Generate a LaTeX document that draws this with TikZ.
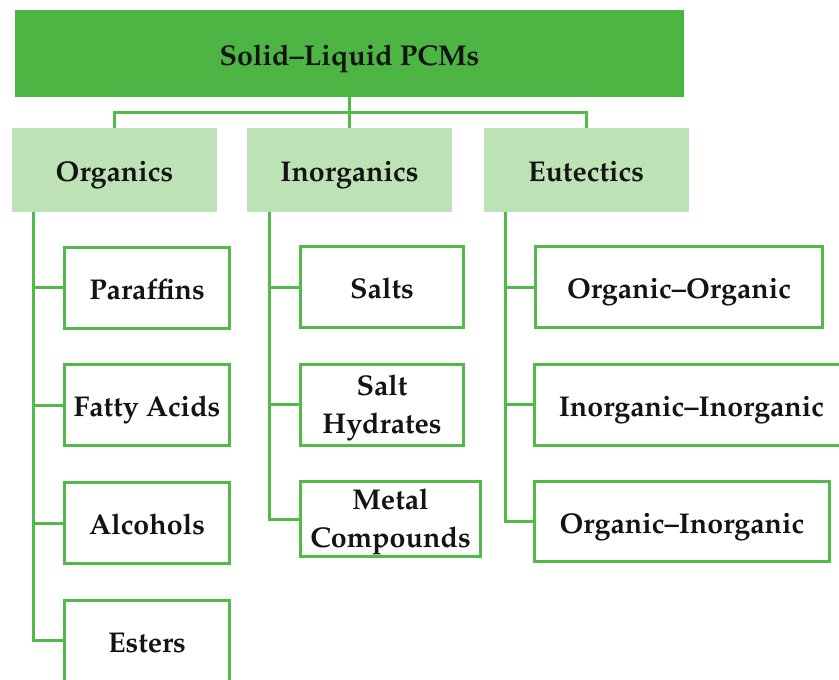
\documentclass[tikz,border=0pt]{standalone}
\usepackage[T1]{fontenc}
\usepackage{mathpazo}
\usepackage{tikz}
\usetikzlibrary{positioning}

\definecolor{pcmdark}{HTML}{4CB543}
\definecolor{pcmlight}{HTML}{BCE2B6}
\definecolor{pcmline}{HTML}{52BA48}

\begin{document}
\begin{tikzpicture}[x=1pt, y=-1pt,
    every node/.style={font=\fontsize{28.6}{38}\selectfont\bfseries, text=black!92, align=center, outer sep=0pt, inner sep=0pt},
    oneline/.style={text height=23pt, text depth=0pt},
    rootbox/.style={oneline, fill=pcmdark, minimum width=669pt, minimum height=87pt},
    groupbox/.style={oneline, fill=pcmlight, minimum width=205pt, minimum height=84pt},
    itembox/.style={draw=pcmline, line width=3pt, fill=white, minimum height=81pt},
    link/.style={draw=pcmline, line width=3pt}]
      \useasboundingbox (0,0) rectangle (839,680);
      \clip (0,0) rectangle (839,680);

      % Define the coordinates
      \coordinate (R) at (349.5,53.5);
      \coordinate (G1) at (114.5,170);
      \coordinate (G2) at (349.5,170);
      \coordinate (G3) at (586,170);

      % Draw the root and the groups
      \node[rootbox] (pcm) at (R) {Solid--Liquid PCMs};
      \node[groupbox] (org) at (G1) {Organics};
      \node[groupbox] (ino) at (G2) {Inorganics};
      \node[groupbox] (eut) at (G3) {Eutectics};

      % Draw the organic materials
      \node[itembox, oneline, minimum width=165pt] (par) at (147,287.5) {Paraffins};
      \node[itembox, oneline, minimum width=165pt] (fat) at (147,405) {Fatty Acids};
      \node[itembox, oneline, minimum width=165pt] (alc) at (147,523) {Alcohols};
      \node[itembox, oneline, minimum width=165pt] (est) at (147,640.5) {Esters};

      % Draw the inorganic materials
      \node[itembox, oneline, minimum width=163pt] (sal) at (382,287) {Salts};
      \node[itembox, minimum width=163pt] (hyd) at (382,404.5) {\rule{0pt}{27pt}Salt\\Hydrates};
      \node[itembox, minimum width=180pt, minimum height=75pt] (met) at (390.5,519) {\rule{0pt}{27pt}Metal\\Compounds};

      % Draw the eutectic mixtures
      \node[itembox, oneline, minimum width=287pt] (oo) at (679,287) {Organic--Organic};
      \node[itembox, oneline, minimum width=314pt] (ii) at (691.5,404.5) {Inorganic--Inorganic};
      \node[itembox, oneline, minimum width=295pt, minimum height=80pt] (oi) at (682,521.5) {Organic--Inorganic};

      % Draw the tree connectors
      \draw[link] (pcm.south) -- (ino.north);
      \draw[link] (org.north) -- ++(0,-15.5) -| (eut.north);
      \foreach \child in {par, fat, alc, est}
        \draw[link] ([xshift=21pt]org.south west) |- (\child.west);
      \foreach \child in {sal, hyd, met}
        \draw[link] ([xshift=22pt]ino.south west) |- (\child.west);
      \foreach \child in {oo, ii, oi}
        \draw[link] ([xshift=22pt]eut.south west) |- (\child.west);
\end{tikzpicture}
\end{document}
